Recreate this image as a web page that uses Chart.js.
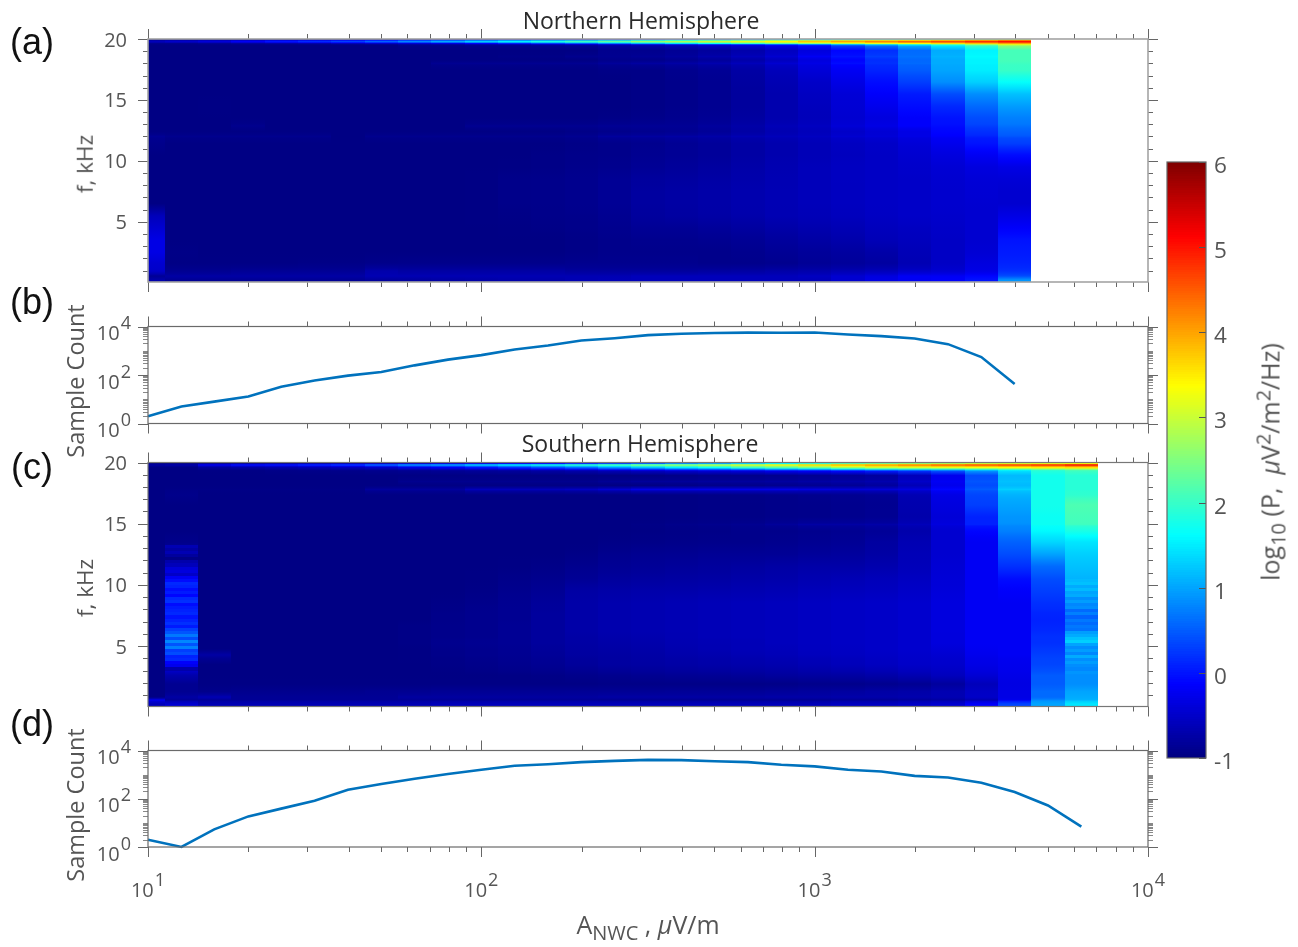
<!DOCTYPE html>
<html>
<head>
<meta charset="utf-8">
<title>NWC power spectra</title>
<script src="https://cdn.jsdelivr.net/npm/chart.js@4"></script>
<style>
  html, body { margin: 0; background: #fff; }
  #page { position: relative; width: 1298px; height: 947px; overflow: hidden; font-family: "Open Sans", sans-serif; color: #555; }
  canvas { position: absolute; left: 0; top: 0; }
  .txt { position: absolute; white-space: nowrap; transform: translate(-50%, -50%); line-height: 1; font-size: 20px; }
  .rot { transform: translate(-50%, -50%) rotate(-90deg); }
  .tag { font-family: "Liberation Sans", sans-serif; font-size: 36px; color: #111; }
  .head { color: #2a2a2a; font-size: 23px; }
  sub, sup { font-size: 0.8em; line-height: 0; }
</style>
</head>
<body>
<div id="page">
  <canvas id="northMap" width="1298" height="947"></canvas>
  <canvas id="northCount" width="1298" height="947"></canvas>
  <canvas id="southMap" width="1298" height="947"></canvas>
  <canvas id="southCount" width="1298" height="947"></canvas>
  <canvas id="colorBar" width="1298" height="947"></canvas>

  <div class="txt tag" style="left:32px;top:42px">(a)</div>
  <div class="txt tag" style="left:32px;top:302px">(b)</div>
  <div class="txt tag" style="left:32px;top:467px">(c)</div>
  <div class="txt tag" style="left:32px;top:724px">(d)</div>
  <div class="txt head" style="left:641px;top:20px">Northern Hemisphere</div>
  <div class="txt head" style="left:640px;top:443px">Southern Hemisphere</div>
  <div class="txt rot" style="left:85px;top:164px;font-size:22.5px">f, kHz</div>
  <div class="txt rot" style="left:85px;top:588px;font-size:22.5px">f, kHz</div>
  <div class="txt rot" style="left:76px;top:381px;font-size:23.5px">Sample Count</div>
  <div class="txt rot" style="left:76px;top:805px;font-size:23.5px">Sample Count</div>
  <div class="txt" style="left:648px;top:924px;font-size:25px">A<sub>NWC</sub> , <i>μ</i>V/m</div>
  <div class="txt rot" style="left:1270px;top:462px;font-size:25px">log<sub>10</sub> (P,&nbsp; <i>μ</i>V<sup>2</sup>/m<sup>2</sup>/Hz)</div>
</div>

<script>
// amplitude bin centres, uV/m
const ampCenters = [10, 12.6, 15.8, 20, 25.1, 31.6, 39.8, 50.1, 63.1, 79.4, 100, 125.9, 158.5, 199.5, 251.2, 316.2, 398.1, 501.2, 631, 794.3, 1000, 1258.9, 1584.9, 1995.3, 2511.9, 3162.3, 3981.1, 5011.9, 6309.6];

const northCounts = [2, 5, 8, 13, 33, 59, 94, 133, 250, 430, 660, 1130, 1650, 2650, 3300, 4400, 5000, 5400, 5600, 5500, 5650, 4700, 4000, 3200, 1870, 550, 43];
const southCounts = [2, 1, 5.4, 18.6, 39, 83, 234, 407, 676, 1070, 1585, 2340, 2700, 3300, 3700, 4070, 4000, 3600, 3300, 2570, 2190, 1585, 1350, 890, 760, 457, 190, 52.6, 7];

const ampTicks = [10, 20, 30, 40, 50, 60, 70, 80, 90, 100, 200, 300, 400, 500, 600, 700, 800, 900, 1000, 2000, 3000, 4000, 5000, 6000, 7000, 8000, 9000, 10000];
const countTicks = [1, 2, 3, 4, 5, 6, 7, 8, 9, 10, 20, 30, 40, 50, 60, 70, 80, 90, 100, 200, 300, 400, 500, 600, 700, 800, 900, 1000, 2000, 3000, 4000, 5000, 6000, 7000, 8000, 9000, 10000];
const freqTicks = [1, 2, 3, 4, 5, 6, 7, 8, 9, 10, 11, 12, 13, 14, 15, 16, 17, 18, 19, 20];
const freqLabels = [5, 10, 15, 20];
const ampLabels = [10, 100, 1000, 10000];
const countLabels = [1, 100, 10000];
const colorTicks = [-1, 0, 1, 2, 3, 4, 5, 6];

// frequency band edges (kHz) and log10 power, one row per band, top band first
const northEdges = [20, 19.9, 19.7, 19.55, 19.4, 18.7, 18.45, 18.15, 17.9, 17, 16, 15, 14, 13, 12.7, 12.1, 11.85, 11, 10, 9, 8, 7, 6, 5, 4, 3, 2, 1.2, 0.7, 0.4, 0.06];
const northPower = [
  [-.95,-.95,-.9,-.9,-.85,-.8,-.75,-.7,-.6,-.5,-.4,-.3,-.2,-.1,.1,.3,.5,.8,1,1.3,1.6,1.9,2.1,2.3,2.5,2.7,2.9],
  [-.6,-.5,-.4,-.2,0,.15,.3,.55,.8,1.05,1.3,1.55,1.8,2.05,2.3,2.65,2.8,3,3.2,3.4,3.75,4,4.2,4.4,4.6,4.8,5],
  [-.9,-.9,-.85,-.8,-.75,-.7,-.6,-.5,-.4,-.3,-.1,.1,.3,.5,.8,1.1,1.4,1.7,2,2.3,2.6,2.9,3.2,3.4,3.6,3.8,4],
  [-.97,-.97,-.97,-.97,-.97,-.97,-.97,-.97,-.9,-.9,-.85,-.85,-.8,-.75,-.65,-.55,-.45,-.3,-.2,0,.2,.7,1.1,1.5,1.9,2.4,3],
  [-.97,-.97,-.97,-.97,-.97,-.97,-.97,-.97,-.97,-.97,-.97,-.97,-.97,-.97,-.9,-.9,-.85,-.8,-.7,-.55,-.35,-.1,.2,.6,1.05,1.55,2.1],
  [-.97,-.97,-.97,-.97,-.97,-.97,-.97,-.97,-.97,-.97,-.97,-.95,-.95,-.9,-.88,-.85,-.8,-.7,-.6,-.45,-.2,0,.3,.65,1.1,1.6,2.1],
  [-.97,-.97,-.97,-.97,-.97,-.97,-.97,-.97,-.97,-.97,-.97,-.97,-.97,-.97,-.92,-.92,-.88,-.82,-.72,-.58,-.36,-.12,.18,.58,1.05,1.55,2.1],
  [-.97,-.97,-.97,-.97,-.97,-.97,-.97,-.97,-.97,-.88,-.88,-.88,-.88,-.88,-.82,-.78,-.74,-.68,-.6,-.45,-.3,-.05,.2,.6,1.05,1.55,2.05],
  [-.97,-.97,-.97,-.97,-.97,-.97,-.97,-.97,-.97,-.97,-.97,-.97,-.97,-.97,-.95,-.95,-.9,-.85,-.75,-.6,-.4,-.2,.1,.5,1,1.5,2],
  [-.97,-.97,-.97,-.97,-.97,-.97,-.97,-.97,-.97,-.97,-.97,-.97,-.97,-.97,-.97,-.95,-.92,-.88,-.78,-.65,-.5,-.3,-.05,.3,.85,1.3,1.65],
  [-.97,-.97,-.97,-.97,-.97,-.97,-.97,-.97,-.97,-.97,-.97,-.97,-.97,-.97,-.97,-.95,-.92,-.88,-.8,-.68,-.55,-.4,-.15,.05,.4,.85,1.2],
  [-.97,-.97,-.96,-.97,-.97,-.97,-.97,-.97,-.97,-.97,-.97,-.97,-.97,-.97,-.97,-.95,-.92,-.88,-.8,-.68,-.58,-.42,-.25,-.05,.15,.6,.95],
  [-.97,-.97,-.97,-.97,-.97,-.97,-.97,-.97,-.97,-.97,-.97,-.97,-.97,-.97,-.95,-.93,-.9,-.86,-.78,-.68,-.6,-.45,-.35,-.15,0,.4,.75],
  [-.97,-.97,-.97,-.9,-.97,-.97,-.97,-.97,-.97,-.97,-.88,-.88,-.88,-.88,-.85,-.85,-.85,-.8,-.72,-.62,-.55,-.4,-.3,-.15,-.05,.3,.65],
  [-.97,-.97,-.97,-.97,-.97,-.97,-.97,-.97,-.97,-.97,-.97,-.97,-.97,-.95,-.92,-.9,-.88,-.84,-.75,-.66,-.6,-.5,-.42,-.3,-.1,.2,.55],
  [-.85,-.9,-.9,-.9,-.9,-.9,-.97,-.9,-.9,-.9,-.9,-.9,-.9,-.88,-.8,-.78,-.75,-.72,-.65,-.6,-.55,-.45,-.4,-.3,-.15,.1,.45],
  [-.92,-.97,-.97,-.97,-.97,-.97,-.97,-.97,-.97,-.97,-.97,-.97,-.97,-.95,-.92,-.9,-.86,-.82,-.75,-.68,-.62,-.55,-.5,-.4,-.25,0,.3],
  [-.97,-.97,-.97,-.97,-.97,-.97,-.97,-.97,-.97,-.97,-.97,-.97,-.95,-.93,-.92,-.88,-.85,-.82,-.75,-.68,-.62,-.57,-.52,-.45,-.35,-.2,-.05],
  [-.97,-.97,-.97,-.97,-.97,-.97,-.97,-.97,-.97,-.97,-.97,-.96,-.95,-.92,-.9,-.85,-.82,-.78,-.72,-.66,-.6,-.55,-.52,-.48,-.42,-.35,-.3],
  [-.97,-.97,-.97,-.97,-.97,-.97,-.97,-.97,-.97,-.97,-.96,-.93,-.92,-.9,-.85,-.8,-.78,-.74,-.7,-.65,-.6,-.55,-.52,-.5,-.45,-.4,-.4],
  [-.97,-.97,-.97,-.97,-.97,-.97,-.97,-.97,-.97,-.97,-.96,-.93,-.92,-.9,-.85,-.78,-.75,-.72,-.68,-.64,-.6,-.56,-.52,-.5,-.46,-.42,-.45],
  [-.97,-.97,-.97,-.97,-.97,-.97,-.97,-.97,-.97,-.97,-.96,-.93,-.92,-.9,-.85,-.78,-.75,-.72,-.68,-.64,-.6,-.56,-.52,-.5,-.46,-.44,-.45],
  [-.6,-.97,-.97,-.97,-.97,-.97,-.97,-.97,-.97,-.97,-.96,-.95,-.93,-.92,-.88,-.8,-.77,-.74,-.7,-.65,-.62,-.58,-.54,-.5,-.48,-.45,-.3],
  [-.45,-.97,-.97,-.97,-.97,-.97,-.97,-.97,-.97,-.97,-.97,-.96,-.95,-.93,-.9,-.85,-.85,-.82,-.78,-.72,-.68,-.64,-.58,-.55,-.5,-.45,-.15],
  [-.3,-.97,-.97,-.97,-.97,-.97,-.97,-.97,-.97,-.97,-.97,-.97,-.97,-.95,-.92,-.9,-.9,-.88,-.85,-.8,-.75,-.7,-.62,-.58,-.52,-.45,0],
  [-.3,-.95,-.97,-.97,-.97,-.97,-.97,-.97,-.97,-.97,-.97,-.97,-.97,-.95,-.92,-.92,-.92,-.92,-.9,-.85,-.82,-.78,-.72,-.62,-.52,-.42,.05],
  [-.45,-.96,-.96,-.96,-.96,-.95,-.95,-.93,-.92,-.92,-.92,-.92,-.92,-.9,-.9,-.9,-.9,-.92,-.92,-.9,-.85,-.82,-.78,-.65,-.52,-.35,.1],
  [-.5,-.88,-.88,-.85,-.85,-.85,-.85,-.7,-.75,-.75,-.75,-.75,-.75,-.8,-.8,-.8,-.8,-.78,-.76,-.72,-.7,-.65,-.6,-.5,-.45,-.3,.2],
  [-.85,-.75,-.75,-.75,-.75,-.75,-.75,-.65,-.65,-.65,-.65,-.65,-.65,-.65,-.65,-.6,-.6,-.6,-.6,-.6,-.55,-.45,-.35,-.2,-.2,-.1,.4],
  [-.7,-.85,-.85,-.85,-.85,-.85,-.85,-.8,-.78,-.75,-.72,-.7,-.7,-.65,-.62,-.6,-.6,-.6,-.6,-.6,-.6,-.45,-.3,-.2,-.15,0,.9]
];

const southEdges = [20, 19.9, 19.7, 19.5, 19.3, 18.55, 18.3, 17.9, 17.7, 17, 16, 15.05, 14.85, 14, 13, 12, 11, 10, 9, 8, 7.4, 7, 6.5, 6, 5.5, 5, 4.5, 4, 3, 2.2, 1.6, 1, 0.65, 0.5, 0.06];
const southPower = [
  [-.95,-.95,-.85,-.8,-.75,-.7,-.65,-.6,-.5,-.4,-.3,-.2,-.1,.1,.3,.5,.8,1,1.3,1.6,1.9,2.2,2.4,2.6,2.8,3,3.1,3.2,3.3],
  [-.75,-.7,-.2,0,.05,.2,.35,.7,1,1.1,1.4,1.6,1.8,2.05,2.3,2.65,2.8,3,3.2,3.4,3.7,4,4.2,4.4,4.6,4.7,4.8,4.95,5.2],
  [-.95,-.95,-.8,-.75,-.7,-.65,-.6,-.5,-.3,-.2,0,.2,.4,.6,.9,1.2,1.5,1.7,2,2.2,2.4,2.7,3,3.1,3.2,3.3,3.4,3.5,3.6],
  [-.97,-.97,-.95,-.95,-.92,-.9,-.88,-.85,-.8,-.75,-.7,-.65,-.55,-.45,-.3,-.15,0,.1,.2,.4,.5,.7,.9,1,1.1,1.4,1.7,2,2.2],
  [-.97,-.97,-.97,-.97,-.97,-.97,-.97,-.97,-.97,-.97,-.97,-.97,-.97,-.97,-.97,-.97,-.95,-.93,-.92,-.9,-.88,-.85,-.8,-.6,-.25,.4,1.15,1.75,1.9],
  [-.97,-.97,-.97,-.97,-.97,-.97,-.97,-.97,-.9,-.9,-.9,-.9,-.9,-.9,-.85,-.82,-.82,-.8,-.8,-.78,-.75,-.72,-.68,-.5,-.2,.45,1.2,1.75,1.9],
  [-.97,-.97,-.97,-.97,-.97,-.97,-.97,-.97,-.97,-.97,-.97,-.97,-.97,-.97,-.97,-.97,-.95,-.93,-.92,-.9,-.88,-.85,-.8,-.62,-.25,.4,1.15,1.75,1.9],
  [-.97,-.95,-.95,-.95,-.95,-.95,-.95,-.8,-.8,-.8,-.6,-.6,-.6,-.55,-.45,-.3,-.3,-.3,-.3,-.3,-.35,-.4,-.4,-.35,-.1,.5,1.3,1.75,1.9],
  [-.97,-.92,-.97,-.97,-.97,-.97,-.97,-.97,-.97,-.97,-.97,-.97,-.97,-.97,-.97,-.97,-.96,-.95,-.94,-.92,-.9,-.88,-.85,-.65,-.3,.35,1.1,1.75,1.95],
  [-.97,-.97,-.97,-.97,-.97,-.97,-.97,-.97,-.97,-.97,-.97,-.97,-.97,-.97,-.97,-.97,-.96,-.95,-.95,-.93,-.92,-.9,-.88,-.68,-.35,.3,1,1.75,2.15],
  [-.97,-.97,-.97,-.97,-.97,-.97,-.97,-.97,-.97,-.97,-.97,-.97,-.97,-.97,-.97,-.97,-.96,-.95,-.95,-.93,-.92,-.9,-.87,-.7,-.4,.1,.9,1.7,2.1],
  [-.97,-.97,-.97,-.97,-.97,-.97,-.97,-.97,-.97,-.97,-.97,-.97,-.97,-.97,-.97,-.95,-.92,-.9,-.88,-.82,-.75,-.75,-.72,-.6,-.35,.1,.85,1.7,2.05],
  [-.97,-.97,-.97,-.97,-.97,-.97,-.97,-.97,-.97,-.97,-.97,-.97,-.97,-.97,-.97,-.96,-.95,-.94,-.92,-.92,-.9,-.88,-.84,-.7,-.45,-.1,.75,1.6,1.8],
  [-.97,-.93,-.97,-.97,-.97,-.97,-.97,-.97,-.97,-.97,-.97,-.97,-.97,-.97,-.95,-.94,-.93,-.92,-.92,-.9,-.87,-.85,-.78,-.65,-.45,-.2,.55,1.35,1.45],
  [-.97,-.75,-.97,-.97,-.97,-.97,-.97,-.97,-.97,-.97,-.97,-.97,-.97,-.95,-.9,-.88,-.87,-.85,-.85,-.85,-.82,-.8,-.75,-.62,-.45,-.2,.4,1,1.3],
  [-.97,-.5,-.97,-.97,-.97,-.97,-.97,-.97,-.97,-.97,-.97,-.96,-.94,-.9,-.86,-.84,-.82,-.8,-.78,-.75,-.72,-.72,-.68,-.6,-.42,-.2,.2,.6,1.2],
  [-.97,-.3,-.97,-.97,-.97,-.97,-.97,-.97,-.97,-.97,-.96,-.93,-.9,-.85,-.8,-.78,-.76,-.75,-.72,-.7,-.66,-.63,-.6,-.55,-.4,-.2,-.05,.4,1.1],
  [-.97,-.05,-.97,-.97,-.97,-.97,-.97,-.97,-.97,-.97,-.95,-.9,-.86,-.75,-.72,-.7,-.7,-.68,-.66,-.64,-.6,-.58,-.56,-.5,-.38,-.2,-.15,.3,1],
  [-.97,.05,-.97,-.97,-.97,-.97,-.97,-.97,-.97,-.95,-.92,-.88,-.82,-.72,-.68,-.66,-.64,-.62,-.6,-.58,-.55,-.52,-.5,-.46,-.35,-.2,-.2,.2,.7],
  [-.97,.25,-.97,-.97,-.97,-.97,-.97,-.97,-.97,-.93,-.9,-.87,-.8,-.72,-.68,-.66,-.64,-.62,-.6,-.58,-.55,-.52,-.5,-.46,-.35,-.2,-.2,.12,.55],
  [-.97,.1,-.97,-.97,-.97,-.97,-.97,-.97,-.97,-.93,-.9,-.87,-.8,-.72,-.68,-.66,-.64,-.62,-.6,-.58,-.55,-.52,-.5,-.46,-.35,-.2,-.2,.1,.75],
  [-.97,.4,-.97,-.97,-.97,-.97,-.97,-.97,-.95,-.92,-.9,-.86,-.8,-.72,-.68,-.66,-.64,-.62,-.6,-.58,-.55,-.52,-.5,-.46,-.35,-.2,-.2,.12,.65],
  [-.97,.7,-.97,-.97,-.97,-.97,-.97,-.97,-.95,-.92,-.9,-.86,-.8,-.72,-.68,-.66,-.64,-.62,-.6,-.58,-.55,-.52,-.5,-.46,-.35,-.2,-.2,.15,.8],
  [-.97,.35,-.97,-.97,-.97,-.97,-.97,-.97,-.95,-.92,-.9,-.86,-.8,-.74,-.7,-.68,-.65,-.62,-.6,-.58,-.55,-.52,-.5,-.46,-.36,-.2,-.2,.2,1.05],
  [-.97,.75,-.97,-.97,-.97,-.97,-.97,-.97,-.95,-.9,-.88,-.86,-.8,-.75,-.72,-.7,-.66,-.64,-.62,-.58,-.55,-.52,-.5,-.46,-.36,-.2,-.2,.2,.9],
  [-.97,.45,-.97,-.97,-.97,-.97,-.97,-.97,-.96,-.92,-.9,-.87,-.82,-.76,-.74,-.72,-.68,-.65,-.62,-.6,-.56,-.54,-.5,-.46,-.4,-.22,-.2,.25,.85],
  [-.97,.15,-.75,-.97,-.97,-.97,-.97,-.97,-.96,-.93,-.9,-.88,-.84,-.78,-.76,-.74,-.7,-.68,-.65,-.62,-.58,-.55,-.52,-.48,-.44,-.25,-.2,.3,.95],
  [-.97,-.35,-.97,-.97,-.97,-.97,-.97,-.97,-.97,-.95,-.93,-.9,-.87,-.82,-.78,-.76,-.74,-.72,-.7,-.68,-.64,-.6,-.56,-.5,-.48,-.3,-.25,.35,.9],
  [-.97,-.7,-.97,-.97,-.97,-.97,-.97,-.97,-.97,-.97,-.97,-.96,-.95,-.92,-.9,-.88,-.86,-.85,-.83,-.8,-.78,-.76,-.72,-.66,-.58,-.42,-.28,.5,.85],
  [-.97,-.88,-.96,-.96,-.96,-.96,-.96,-.96,-.96,-.96,-.96,-.96,-.96,-.96,-.95,-.95,-.95,-.95,-.95,-.94,-.92,-.92,-.9,-.87,-.8,-.6,-.32,.5,.85],
  [-.97,-.88,-.92,-.9,-.9,-.9,-.9,-.88,-.88,-.86,-.86,-.86,-.86,-.85,-.85,-.85,-.84,-.84,-.84,-.82,-.8,-.78,-.74,-.72,-.66,-.52,-.3,.6,1],
  [-.97,-.75,-.65,-.85,-.85,-.85,-.85,-.85,-.78,-.78,-.78,-.78,-.78,-.78,-.75,-.75,-.75,-.75,-.74,-.72,-.72,-.7,-.7,-.68,-.65,-.5,-.3,.6,1.05],
  [-.2,-.85,-.85,-.85,-.85,-.85,-.85,-.85,-.85,-.85,-.85,-.85,-.85,-.85,-.88,-.88,-.88,-.88,-.88,-.88,-.88,-.85,-.85,-.82,-.78,-.68,-.25,.8,1.1],
  [-.6,-.45,-.65,-.65,-.65,-.65,-.65,-.65,-.65,-.6,-.6,-.6,-.6,-.6,-.6,-.6,-.6,-.6,-.6,-.6,-.6,-.55,-.55,-.5,-.45,-.15,.35,1,1.45]
];

// fine stripes in two southern columns, 0.25 kHz bands going down from the start frequency
const southStripeLow = [-.65,-.75,-.65,-.8,-.95,-.7,-.6,-.4,-.35,-.5,-.2,-.05,.15,.1,-.05,.05,-.1,.15,.2,-.05,.05,.1,.15,0,.1,.2,.05,.3,.45,.7,.4,.8,.45,.75,.3,.4,.1,.15,-.15,-.25,-.7];
const southStripeHigh = [1.15,1.2,1.05,1.15,1,1.05,.85,.95,.8,.85,.6,.75,.55,.7,.6,.7,.65,.95,1.05,1.2,1.3,1,.85,.95,.8,1.05,.85,.95,.85,.8,.9];

const AXIS_COLOR = "#666";
const TEXT_COLOR = "#555";
const LINE_COLOR = "#0072BD";

function clamp01(v) {
  return Math.max(0, Math.min(1, v));
}

// jet colormap over the -1..6 range of the colour bar
function jet(v) {
  const t = (v + 1) / 7;
  const r = clamp01(Math.min(4 * t - 1.5, -4 * t + 4.5));
  const g = clamp01(Math.min(4 * t - 0.5, -4 * t + 3.5));
  const b = clamp01(Math.min(4 * t + 0.5, -4 * t + 2.5));
  return `rgb(${Math.round(r * 255)},${Math.round(g * 255)},${Math.round(b * 255)})`;
}

function columnEdges(c) {
  const center = ampCenters[c];
  const next = ampCenters[c + 1] || center * 1.259;
  return {
    x0: c > 0 ? Math.sqrt(ampCenters[c - 1] * center) : center,
    x1: Math.sqrt(center * next)
  };
}

function heatCells(edges, table) {
  const cells = [];
  table.forEach((row, r) => {
    row.forEach((v, c) => {
      const above = r > 0 ? table[r - 1][c] : v;
      const below = r < table.length - 1 ? table[r + 1][c] : v;
      cells.push({
        x: ampCenters[c],
        y: (edges[r] + edges[r + 1]) / 2,
        v: v,
        vTop: (v + above) / 2,
        vBottom: (v + below) / 2,
        ...columnEdges(c),
        y0: edges[r + 1],
        y1: edges[r]
      });
    });
  });
  return cells;
}

function stripeCells(column, startFreq, values) {
  return values.map((v, i) => ({
    x: ampCenters[column],
    y: startFreq - 0.25 * i - 0.125,
    v: v,
    vTop: v,
    vBottom: v,
    ...columnEdges(column),
    y0: startFreq - 0.25 * (i + 1),
    y1: startFreq - 0.25 * i
  }));
}

function countPoints(counts) {
  return counts.map((n, i) => ({ x: ampCenters[i], y: n }));
}

// power cells, drawn under the axes through the chart's own scales
const heatPlugin = {
  id: "heatCells",
  beforeDatasetsDraw(chart) {
    const { ctx, scales: { x, y } } = chart;
    const ds = chart.data.datasets[0];
    ds.data.forEach(cell => {
      const left = Math.round(x.getPixelForValue(cell.x0));
      const right = Math.round(x.getPixelForValue(cell.x1));
      const top = Math.round(y.getPixelForValue(cell.y1));
      const bottom = Math.round(y.getPixelForValue(cell.y0));
      if (bottom <= top) return;
      // soft shading across the band, the way the source image looks
      const shade = ctx.createLinearGradient(0, top, 0, bottom);
      shade.addColorStop(0, jet(cell.vTop));
      shade.addColorStop(0.5, jet(cell.v));
      shade.addColorStop(1, jet(cell.vBottom));
      ctx.fillStyle = shade;
      ctx.fillRect(left, top, right - left, bottom - top);
    });
  }
};

function drawPowerLabel(ctx, exponent, px, py, centered) {
  ctx.fillStyle = TEXT_COLOR;
  ctx.textBaseline = "alphabetic";
  ctx.textAlign = "left";
  ctx.font = "20px 'Open Sans'";
  const baseWidth = ctx.measureText("10").width;
  ctx.font = "18px 'Open Sans'";
  const expWidth = ctx.measureText(exponent).width;
  const start = centered ? px - (baseWidth + expWidth + 1) / 2 : px - baseWidth - expWidth - 1;
  ctx.font = "20px 'Open Sans'";
  ctx.fillText("10", start, py);
  ctx.font = "18px 'Open Sans'";
  ctx.fillText(exponent, start + baseWidth + 1, py - 11);
}

// box with outward ticks on all four sides, plus the tick labels
const boxPlugin = {
  id: "boxAxes",
  afterDraw(chart, args, opts) {
    const { ctx, chartArea: area, scales: { x, y } } = chart;
    ctx.save();

    ctx.strokeStyle = AXIS_COLOR;
    ctx.lineWidth = 1;
    x.ticks.forEach(tick => {
      const px = Math.round(x.getPixelForValue(tick.value)) + 0.5;
      const len = ampLabels.includes(tick.value) ? 10 : 5;
      ctx.beginPath();
      ctx.moveTo(px, area.top - len);
      ctx.lineTo(px, area.top);
      ctx.moveTo(px, area.bottom);
      ctx.lineTo(px, area.bottom + len);
      ctx.stroke();
    });
    y.ticks.forEach(tick => {
      const py = Math.round(y.getPixelForValue(tick.value)) + 0.5;
      const len = opts.yMajor.includes(tick.value) ? 10 : 5;
      ctx.strokeStyle = opts.yMinorColor && len === 5 ? opts.yMinorColor : AXIS_COLOR;
      ctx.beginPath();
      ctx.moveTo(area.left - len, py);
      ctx.lineTo(area.left, py);
      ctx.moveTo(area.right, py);
      ctx.lineTo(area.right + len, py);
      ctx.stroke();
    });

    ctx.strokeStyle = opts.frameColor;
    ctx.lineWidth = opts.frameWidth;
    ctx.strokeRect(area.left, area.top, area.right - area.left, area.bottom - area.top);

    if (opts.logLabels) {
      countLabels.forEach(value => {
        drawPowerLabel(ctx, String(Math.round(Math.log10(value))), 131, y.getPixelForValue(value) + 13.5, false);
      });
    } else {
      ctx.fillStyle = TEXT_COLOR;
      ctx.font = "20px 'Open Sans'";
      ctx.textAlign = "right";
      ctx.textBaseline = "alphabetic";
      freqLabels.forEach(value => {
        ctx.fillText(String(value), 127, y.getPixelForValue(value) + 7.5);
      });
    }
    if (opts.xLabels) {
      ampLabels.forEach(value => {
        drawPowerLabel(ctx, String(Math.round(Math.log10(value))), x.getPixelForValue(value), 897, true);
      });
    }
    ctx.restore();
  }
};

const barPlugin = {
  id: "jetBar",
  afterDraw(chart) {
    const { ctx, chartArea: area, scales: { y } } = chart;
    ctx.save();
    const levels = 256;
    for (let i = 0; i < levels; i++) {
      const low = -1 + 7 * i / levels;
      const high = -1 + 7 * (i + 1) / levels;
      const top = Math.floor(y.getPixelForValue(high));
      const bottom = Math.ceil(y.getPixelForValue(low));
      ctx.fillStyle = jet((low + high) / 2);
      ctx.fillRect(area.left, top, area.right - area.left, bottom - top);
    }
    ctx.strokeStyle = "#555";
    ctx.lineWidth = 1;
    ctx.fillStyle = TEXT_COLOR;
    ctx.font = "22.5px 'Open Sans'";
    ctx.textAlign = "left";
    ctx.textBaseline = "alphabetic";
    colorTicks.forEach(value => {
      const py = y.getPixelForValue(value);
      ctx.beginPath();
      ctx.moveTo(area.right - 7, Math.round(py) + 0.5);
      ctx.lineTo(area.right, Math.round(py) + 0.5);
      ctx.stroke();
      ctx.fillText(value === -1 ? "-1" : String(value), 1214, py + 11);
    });
    ctx.strokeStyle = "#666";
    ctx.lineWidth = 1.2;
    ctx.strokeRect(area.left, area.top, area.right - area.left, area.bottom - area.top);
    ctx.restore();
  }
};

function baseOptions(left, top, right, bottom) {
  return {
    responsive: false,
    animation: false,
    events: [],
    layout: { padding: { left: left, top: top, right: 1298 - right, bottom: 947 - bottom } },
    plugins: { legend: { display: false }, tooltip: { enabled: false } }
  };
}

function axis(type, min, max, tickValues) {
  return {
    type: type,
    min: min,
    max: max,
    display: false,
    ticks: { autoSkip: false },
    afterBuildTicks: scale => { scale.ticks = tickValues.map(v => ({ value: v })); }
  };
}

function mapChart(id, cells, top, bottom, box) {
  const options = baseOptions(148, top, 1148, bottom);
  options.scales = {
    x: axis("logarithmic", 10, 10000, ampTicks),
    y: axis("linear", 0.06, 20, freqTicks)
  };
  options.plugins.boxAxes = box;
  return new Chart(document.getElementById(id), {
    type: "scatter",
    data: { datasets: [{ data: cells, pointRadius: 0, showLine: false }] },
    options: options,
    plugins: [heatPlugin, boxPlugin]
  });
}

function countChart(id, counts, top, bottom, xLabels) {
  const options = baseOptions(148, top, 1148, bottom);
  options.scales = {
    x: axis("logarithmic", 10, 10000, ampTicks),
    y: axis("logarithmic", 1, 10000, countTicks)
  };
  options.plugins.boxAxes = {
    frameColor: "#6a6a6a", frameWidth: 1.2, yMajor: countLabels, yMinorColor: "#888",
    logLabels: true, xLabels: xLabels
  };
  return new Chart(document.getElementById(id), {
    type: "scatter",
    data: {
      datasets: [{
        data: countPoints(counts),
        showLine: true,
        borderColor: LINE_COLOR,
        borderWidth: 2.6,
        pointRadius: 0,
        tension: 0,
        clip: false
      }]
    },
    options: options,
    plugins: [boxPlugin]
  });
}

const southCells = heatCells(southEdges, southPower)
  .concat(stripeCells(1, 13.25, southStripeLow))
  .concat(stripeCells(28, 10.5, southStripeHigh));

mapChart("northMap", heatCells(northEdges, northPower), 39, 282, { frameColor: "#a4a4a4", frameWidth: 1.6, yMajor: freqLabels });
countChart("northCount", northCounts, 326.5, 423.5, false);
mapChart("southMap", southCells, 462.5, 706.5, { frameColor: "#777", frameWidth: 1.2, yMajor: freqLabels });
countChart("southCount", southCounts, 750.5, 847, true);

const barOptions = baseOptions(1167, 162, 1206, 758);
barOptions.scales = {
  x: { type: "linear", display: false },
  y: { type: "linear", min: -1, max: 6, display: false }
};
new Chart(document.getElementById("colorBar"), {
  type: "scatter",
  data: { datasets: [{ data: colorTicks.map(v => ({ x: 0, y: v })), pointRadius: 0 }] },
  options: barOptions,
  plugins: [barPlugin]
});
</script>
</body>
</html>
